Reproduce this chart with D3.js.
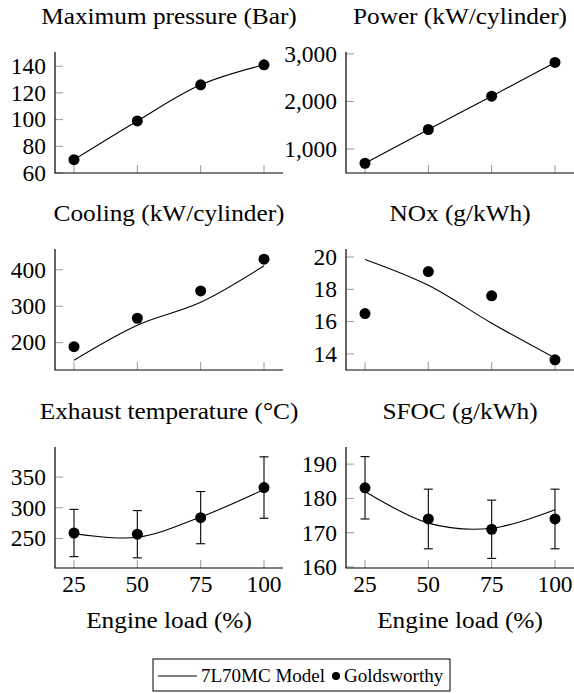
<!DOCTYPE html>
<html>
<head>
<meta charset="utf-8">
<script src="https://cdn.jsdelivr.net/npm/d3@7"></script>
<style>
  body { margin: 0; background: #fff; }
</style>
</head>
<body>
<div id="canvas"></div>
<script>
const loads = [25, 50, 75, 100];

const pressureModel = [70, 99, 126, 141];
const pressureData = [70, 99, 126, 141];
const powerModel = [700, 1410, 2110, 2820];
const powerData = [700, 1410, 2110, 2820];
const coolingModel = [152, 248, 311, 411];
const coolingData = [189, 267, 342, 429];
const noxModel = [19.85, 18.25, 15.9, 13.75];
const noxData = [16.5, 19.1, 17.6, 13.63];
const exhaustModel = [258, 252, 285, 330];
const exhaustData = [259, 257, 284, 333];
const exhaustErr = [38.5, 38.5, 42.5, 50];
const sfocModel = [182, 172.8, 171.3, 176.7];
const sfocData = [183.1, 174, 171, 174];
const sfocErr = [9.1, 8.7, 8.5, 8.7];

const titles = ["Maximum pressure (Bar)", "Power (kW/cylinder)", "Cooling (kW/cylinder)",
  "NOx (g/kWh)", "Exhaust temperature (\u00B0C)", "SFOC (g/kWh)"];
const yTicks = [[60, 80, 100, 120, 140], [1000, 2000, 3000], [200, 300, 400],
  [14, 16, 18, 20], [250, 300, 350], [160, 170, 180, 190]];
const yDomains = [[60, 150.6], [495, 3040], [125, 457], [13.0, 20.5], [202, 399], [159.7, 195]];
const xLabel = "Engine load (%)";
const legendNames = ["7L70MC Model", "Goldsworthy"];

const panels = [
  { model: pressureModel, data: pressureData },
  { model: powerModel, data: powerData },
  { model: coolingModel, data: coolingData },
  { model: noxModel, data: noxData },
  { model: exhaustModel, data: exhaustData, err: exhaustErr },
  { model: sfocModel, data: sfocData, err: sfocErr }
];

const width = 574;
const height = 693;
const font = "\"Liberation Serif\"";
const colX = [55, 346];
const rowY = [52, 249, 447];
const pw = 228;
const ph = 121;

const svg = d3.select("#canvas").append("svg")
  .attr("width", width)
  .attr("height", height);

const label = (sel, size) => sel
  .style("font-family", font)
  .style("font-size", size + "px")
  .attr("fill", "#000");

// text placed through a transformed group; sx stretches it a little like Computer Modern
const placeText = (g, tx, ty, str, anchor, sx, dy) => g.append("g")
  .attr("transform", `translate(${tx},${ty}) scale(${sx},1)`)
  .append("text")
  .attr("text-anchor", anchor)
  .attr("dy", dy || 0)
  .call(label, 23)
  .text(str);

const x = d3.scaleLinear().domain([17.5, 107.5]).range([0, pw]);

panels.forEach((p, i) => {
  const col = i % 2;
  const row = Math.floor(i / 2);
  const g = svg.append("g")
    .attr("transform", `translate(${colX[col]},${rowY[row]})`);

  const y = d3.scaleLinear().domain(yDomains[i]).range([ph, 0]);

  // title
  placeText(g, pw / 2, -28, titles[i], "middle", 1.1);

  // ticks (gray, inside)
  g.selectAll(".xt").data(loads).enter().append("line")
    .attr("x1", d => x(d)).attr("x2", d => x(d))
    .attr("y1", ph).attr("y2", ph - 8)
    .attr("stroke", "#999").attr("stroke-width", 1);
  g.selectAll(".yt").data(yTicks[i]).enter().append("line")
    .attr("x1", 0).attr("x2", 8)
    .attr("y1", d => y(d)).attr("y2", d => y(d))
    .attr("stroke", "#999").attr("stroke-width", 1);

  const fmt = i === 1 ? d3.format(",") : d3.format("");
  yTicks[i].forEach(t => placeText(g, -9, y(t), fmt(t), "end", 1.02, "0.34em"));

  if (row === 2) {
    loads.forEach(l => placeText(g, x(l), ph + 24, String(l), "middle", 1.02));
    placeText(g, pw / 2, ph + 60, xLabel, "middle", 1.1);
  }

  // axis lines
  g.append("path")
    .attr("d", `M0,0V${ph}H${pw}`)
    .attr("fill", "none")
    .attr("stroke", "#000")
    .attr("stroke-width", 1.2);

  // model line
  const line = d3.line()
    .x((d, j) => x(loads[j]))
    .y(d => y(d))
    .curve(d3.curveCatmullRom);
  g.append("path")
    .attr("d", line(p.model))
    .attr("fill", "none")
    .attr("stroke", "#000")
    .attr("stroke-width", 1.1);

  // error bars
  if (p.err) {
    const eb = g.selectAll(".eb").data(p.data).enter().append("g");
    eb.append("line")
      .attr("x1", (d, j) => x(loads[j])).attr("x2", (d, j) => x(loads[j]))
      .attr("y1", (d, j) => y(d - p.err[j])).attr("y2", (d, j) => y(d + p.err[j]))
      .attr("stroke", "#000").attr("stroke-width", 1.1);
    eb.append("line")
      .attr("x1", (d, j) => x(loads[j]) - 4.5).attr("x2", (d, j) => x(loads[j]) + 4.5)
      .attr("y1", (d, j) => y(d - p.err[j])).attr("y2", (d, j) => y(d - p.err[j]))
      .attr("stroke", "#000").attr("stroke-width", 1.1);
    eb.append("line")
      .attr("x1", (d, j) => x(loads[j]) - 4.5).attr("x2", (d, j) => x(loads[j]) + 4.5)
      .attr("y1", (d, j) => y(d + p.err[j])).attr("y2", (d, j) => y(d + p.err[j]))
      .attr("stroke", "#000").attr("stroke-width", 1.1);
  }

  // measured points
  g.selectAll(".pt").data(p.data).enter().append("circle")
    .attr("cx", (d, j) => x(loads[j]))
    .attr("cy", d => y(d))
    .attr("r", 5.5)
    .attr("fill", "#000");
});

// legend
const lg = svg.append("g").attr("transform", "translate(153,659)");
lg.append("rect")
  .attr("width", 297).attr("height", 32)
  .attr("fill", "#fff").attr("stroke", "#000").attr("stroke-width", 1);
lg.append("line")
  .attr("x1", 5).attr("x2", 44).attr("y1", 17).attr("y2", 17)
  .attr("stroke", "#000").attr("stroke-width", 1.1);
lg.append("text")
  .attr("x", 48).attr("y", 17).attr("dy", "0.34em")
  .call(label, 19)
  .text(legendNames[0]);
lg.append("circle")
  .attr("cx", 183).attr("cy", 17).attr("r", 4).attr("fill", "#000");
lg.append("text")
  .attr("x", 191).attr("y", 17).attr("dy", "0.34em")
  .call(label, 19)
  .text(legendNames[1]);
</script>
</body>
</html>
